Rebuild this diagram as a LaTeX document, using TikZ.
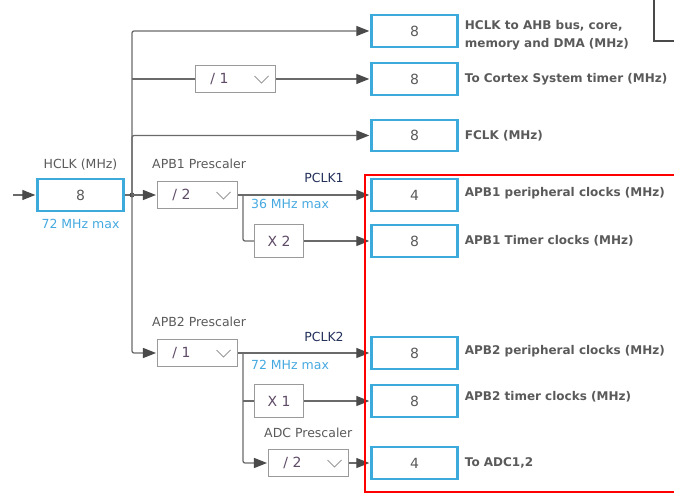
\documentclass[tikz,border=0pt]{standalone}
\usepackage{fontspec}
\setmainfont{DejaVu Sans}
\usetikzlibrary{
  arrows.meta, % for the Triangle arrow tip
  positioning % for the captions next to the boxes
}
\definecolor{wiregray}{HTML}{6A6A6A}
\definecolor{tipgray}{HTML}{4A4A4A}
\definecolor{boxblue}{HTML}{3DAADC}
\definecolor{txtgray}{HTML}{5A5A5A}
\definecolor{capblue}{HTML}{45A9E0}
\definecolor{pclknavy}{HTML}{22305A}
\definecolor{combogray}{HTML}{9A9A9A}
\definecolor{combotext}{HTML}{5E4A66}
\newcommand{\padcombo}{\rule{32pt}{0pt}}
\tikzset{
  valbox/.style={ % blue boxes that show a frequency
    rectangle,draw=boxblue,line width=2.4pt, % thick light blue frame
    minimum width=86pt,minimum height=31.5pt, % all boxes the same size
    inner sep=0pt,text=txtgray,font=\fontsize{14}{16}\selectfont,
  },
  combo/.style={ % drop-down selectors for the prescalers
    rectangle,draw=combogray,line width=1.1pt,
    minimum width=80pt,minimum height=27pt,
    inner sep=0pt,text=combotext,font=\fontsize{14}{16}\selectfont,
    path picture={ % the little chevron on the right
      \draw[combogray,line width=1pt]
        ([xshift=-21pt,yshift=3pt]path picture bounding box.east)
        -- ++(7pt,-7pt) -- ++(7pt,7pt);
    },
  },
  mulbox/.style={ % timer multipliers
    rectangle,draw=combogray,line width=1.1pt,
    minimum width=49pt,minimum height=33pt,
    inner sep=0pt,text=combotext,font=\fontsize{14}{16}\selectfont,
  },
  desc/.style={ % bold captions right of the blue boxes
    inner sep=0pt,text=txtgray,font=\fontsize{12}{18}\selectfont\bfseries,
  },
  lbl/.style={ % plain captions
    inner sep=0pt,text=txtgray,font=\fontsize{12.5}{15}\selectfont,
  },
  maxlbl/.style={ % blue limits under the clocks
    lbl,text=capblue,
  },
  pclk/.style={ % PCLK names
    lbl,text=pclknavy,
  },
  wire/.style={ % plain connecting line
    draw=wiregray,line width=1.3pt,
  },
  conn/.style={ % connection ending in an arrow
    wire,-{Triangle[length=13pt,width=10pt,color=tipgray]},
    shorten >=1pt,rounded corners=2pt,
  },
}

\begin{document}
\begin{tikzpicture}[x=1pt,y=-1pt]
  \useasboundingbox (0,0) rectangle (674,494);

  % source
  \coordinate (in) at (13,195);
  \node[valbox] (hclk) at (80.5,195) {8};
  \node[lbl,above=8pt of hclk] (hclklbl) {HCLK (MHz)};
  \node[maxlbl,below=7pt of hclk] (hclkmax) {72 MHz max};
  \coordinate (jn) at (132,195);

  % selectors
  \node[combo] (sysdiv) at (235.5,79) {/ 1\padcombo};
  \node[combo] (apb1) at (197.5,195) {/ 2\padcombo};
  \node[lbl,anchor=west] (apb1lbl) at (152,164) {APB1 Prescaler};
  \node[combo] (apb2) at (197.5,353) {/ 1\padcombo};
  \node[lbl,anchor=west] (apb2lbl) at (152,322) {APB2 Prescaler};
  \node[mulbox] (x2) at (279,241) {X 2};
  \node[mulbox] (x1) at (279,401) {X 1};
  \node[combo] (adc) at (308.5,463) {/ 2\padcombo};
  \node[lbl,anchor=west] (adclbl) at (264,433) {ADC Prescaler};

  \coordinate (br1) at (243,195);
  \coordinate (br2) at (243,353);
  \node[pclk] (pclk1) at (324,178) {PCLK1};
  \node[maxlbl] (pclk1max) at (290,204) {36 MHz max};
  \node[pclk] (pclk2) at (324,337) {PCLK2};
  \node[maxlbl] (pclk2max) at (290,365) {72 MHz max};

  % outputs
  \node[valbox] (ahb) at (414.5,31) {8};
  \node[valbox] (cortex) at (414.5,79) {8};
  \node[valbox] (fclk) at (414.5,135.5) {8};
  \node[valbox] (apb1per) at (414.5,195) {4};
  \node[valbox] (apb1tim) at (414.5,241) {8};
  \node[valbox] (apb2per) at (414.5,353) {8};
  \node[valbox] (apb2tim) at (414.5,401) {8};
  \node[valbox] (adcout) at (414.5,463) {4};

  \node[desc,right=6pt of ahb,yshift=-4pt,align=left] (ahblbl)
  {HCLK to AHB bus, core,\\memory and DMA (MHz)};
  \node[desc,right=6pt of cortex] (cortexlbl) {To Cortex System timer (MHz)};
  \node[desc,right=6pt of fclk] (fclklbl) {FCLK (MHz)};
  \node[desc,right=6pt of apb1per,yshift=2pt] (apb1perlbl) {APB1 peripheral clocks (MHz)};
  \node[desc,right=6pt of apb1tim] (apb1timlbl) {APB1 Timer clocks (MHz)};
  \node[desc,right=6pt of apb2per,yshift=2pt] (apb2perlbl) {APB2 peripheral clocks (MHz)};
  \node[desc,right=6pt of apb2tim,yshift=4pt] (apb2timlbl) {APB2 timer clocks (MHz)};
  \node[desc,right=6pt of adcout] (adclbl2) {To ADC1,2};

  % connections
  \draw[conn] (in) -- (hclk);
  \draw[wire] (hclk) -- (jn);
  \fill[tipgray] (jn) circle (2.5pt);
  \draw[conn] (jn) -- (apb1);
  \draw[conn] (jn) |- (ahb);
  \draw[wire] (jn |- sysdiv) -- (sysdiv);
  \draw[conn] (sysdiv) -- (cortex);
  \draw[conn] (jn) |- (fclk);
  \draw[conn] (jn) |- (apb2);

  \draw[conn] (apb1) -- (apb1per);
  \draw[wire,rounded corners=2pt] (br1) |- (x2);
  \draw[conn] (x2) -- (apb1tim);

  \draw[conn] (apb2) -- (apb2per);
  \draw[wire] (br2 |- x1) -- (x1);
  \draw[conn] (br2) |- (adc);
  \draw[conn] (x1) -- (apb2tim);
  \draw[conn] (adc) -- (adcout);

  % highlight and the cut-off box at the corner
  \draw[red,line width=2.2pt] (365,175) rectangle (690,492);
  \draw[tipgray,line width=1.2pt] (654,-5) -- (654,41) -- (690,41);
\end{tikzpicture}
\end{document}
